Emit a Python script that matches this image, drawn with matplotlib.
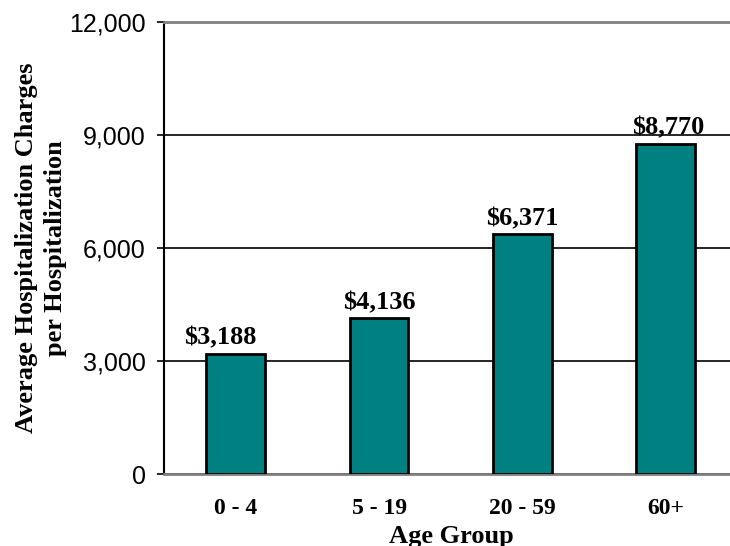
import matplotlib
matplotlib.use("Agg")
import matplotlib.pyplot as plt
from matplotlib.ticker import FuncFormatter

categories = ["0 - 4", "5 - 19", "20 - 59", "60+"]
values = [3188, 4136, 6371, 8770]
value_labels = ["$3,188", "$4,136", "$6,371", "$8,770"]
yticks = [0, 3000, 6000, 9000, 12000]

# horizontal nudges of the value labels (points), as in the reference
label_dx = [-11, 0, 0, 2]

fig = plt.figure(figsize=(7.3, 5.46), dpi=100)
ax = fig.add_axes([164 / 730, 1 - 474 / 546, 573.5 / 730, 452 / 546])

x = list(range(len(categories)))
ax.bar(x, values, width=0.41, color="#008080", edgecolor="black", linewidth=2, zorder=3)

ax.set_xlim(-0.5, len(categories) - 0.5)
ax.set_ylim(0, 12000)
ax.set_yticks(yticks)
ax.yaxis.set_major_formatter(FuncFormatter(lambda v, p: f"{int(v):,}"))
ax.grid(axis="y", color="black", linewidth=1.2, zorder=0)
ax.set_axisbelow(True)

ax.spines["right"].set_visible(False)
ax.spines["top"].set_color("#808080")
ax.spines["top"].set_linewidth(2)
ax.spines["bottom"].set_color("#808080")
ax.spines["bottom"].set_linewidth(2)
ax.spines["left"].set_color("black")
ax.spines["left"].set_linewidth(1.5)

ax.set_xticks(x)
ax.set_xticklabels(categories, fontfamily="Liberation Serif", fontweight="bold", fontsize=17)
ax.tick_params(axis="x", length=0, pad=17)
ax.tick_params(axis="y", length=5, width=1.2, pad=8, labelsize=18)
for lab in ax.get_yticklabels():
    lab.set_fontfamily("Liberation Sans")

for xi, v, lab, dx in zip(x, values, value_labels, label_dx):
    ax.annotate(lab, (xi, v), xytext=(dx, 3), textcoords="offset points",
                ha="center", va="bottom", fontfamily="Liberation Serif",
                fontweight="bold", fontsize=19)

fig.text(451 / 730, 1 - 536 / 546, "Age Group", ha="center", va="center",
         fontfamily="Liberation Serif", fontweight="bold", fontsize=19)
fig.text(41 / 730, 1 - 248 / 546, "Average Hospitalization Charges\nper Hospitalization",
         ha="center", va="center", rotation=90, linespacing=1.35,
         fontfamily="Liberation Serif", fontweight="bold", fontsize=19)

fig.savefig("out.png", dpi=100)
